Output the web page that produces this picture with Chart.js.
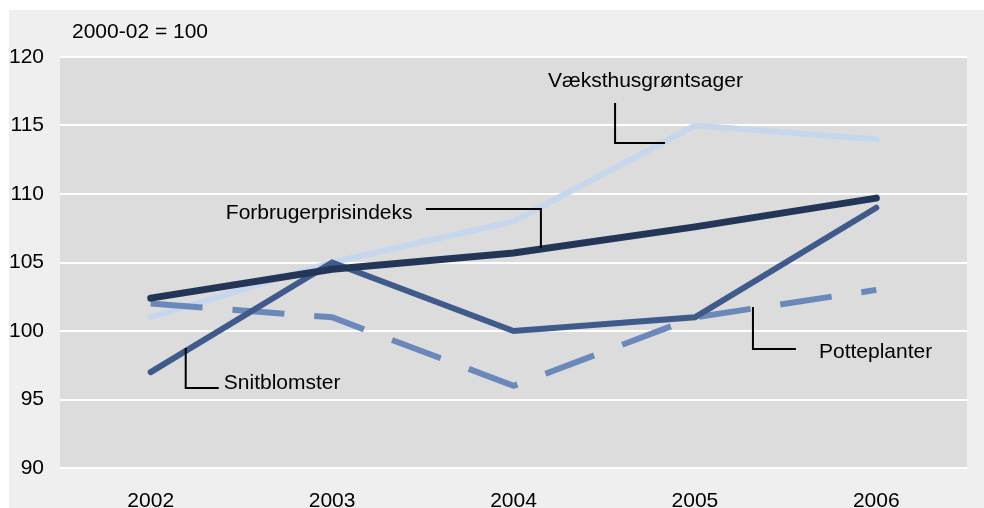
<!DOCTYPE html>
<html>
<head>
<meta charset="utf-8">
<script src="https://cdn.jsdelivr.net/npm/chart.js@4.4.1/dist/chart.umd.min.js"></script>
<style>
  body { margin: 0; background: #fff; }
  #wrap { width: 984px; height: 508px; position: relative; }
</style>
</head>
<body>
<div id="wrap"><canvas id="chart-indeks"></canvas></div>
<script>
const aar = ["2002", "2003", "2004", "2005", "2006"];
const forbrugerprisindeks = [102.4, 104.5, 105.7, 107.6, 109.7];
const snitblomster = [97, 105, 100, 101, 109];
const potteplanter = [102, 101, 96, 101, 103];
const vaeksthus = [101, 105, 108, 115, 114];
const y_ticks = [90, 95, 100, 105, 110, 115, 120];

// labels with leader lines, in data units (x = category index, y = index value)
const etiketter = [
  { tekst: "Væksthusgrøntsager", x: 2.19, y: 118.25, linje: [[2.56, 116.64], [2.56, 113.72], [2.835, 113.72]] },
  { tekst: "Forbrugerprisindeks", x: 0.414, y: 108.6, linje: [[1.517, 108.9], [2.151, 108.9], [2.151, 106.06]] },
  { tekst: "Snitblomster", x: 0.403, y: 96.2, linje: [[0.193, 98.76], [0.193, 95.84], [0.375, 95.84]] },
  { tekst: "Potteplanter", x: 3.684, y: 98.47, linje: [[3.32, 101.75], [3.32, 98.69], [3.557, 98.69]] },
];

const font = "'Liberation Sans', Arial, sans-serif";
Chart.defaults.color = "#000";
Chart.defaults.font.family = font;
Chart.defaults.font.size = 21;

const baggrund = {
  id: "baggrund",
  beforeDraw(chart) {
    const c = chart.ctx;
    const a = chart.chartArea;
    c.save();
    c.fillStyle = "#ffffff";
    c.fillRect(0, 0, chart.width, chart.height);
    c.fillStyle = "#efefef";
    c.fillRect(9, 10, chart.width - 9, chart.height - 10);
    c.fillStyle = "#dcdcdc";
    c.fillRect(a.left, a.top, a.right - a.left, a.bottom - a.top);
    c.restore();
  },
  afterDraw(chart) {
    const c = chart.ctx;
    const a = chart.chartArea;
    const xs = chart.scales.x;
    const ys = chart.scales.y;
    c.save();
    c.font = "21px " + font;
    c.fillStyle = "#000";
    c.textBaseline = "middle";
    c.textAlign = "left";
    c.fillText("2000-02 = 100", a.left + 12, a.top - 25);
    c.strokeStyle = "#000";
    c.lineWidth = 2;
    etiketter.forEach((e) => {
      c.fillText(e.tekst, xs.getPixelForValue(e.x), ys.getPixelForValue(e.y));
      c.beginPath();
      e.linje.forEach((p, i) => {
        const px = xs.getPixelForValue(p[0]);
        const py = ys.getPixelForValue(p[1]);
        if (i === 0) c.moveTo(px, py);
        else c.lineTo(px, py);
      });
      c.stroke();
    });
    c.restore();
  },
};

const ctx = document.getElementById("chart-indeks");
new Chart(ctx, {
  type: "line",
  data: {
    labels: aar,
    datasets: [
      {
        label: "Forbrugerprisindeks",
        data: forbrugerprisindeks,
        borderColor: "#243658",
        borderWidth: 7,
        borderCapStyle: "round",
      },
      {
        label: "Snitblomster",
        data: snitblomster,
        borderColor: "#3f5b8c",
        borderWidth: 6,
        borderCapStyle: "round",
      },
      {
        label: "Potteplanter",
        data: potteplanter,
        borderColor: "#6b88bb",
        borderWidth: 6,
        borderDash: [52, 30],
        borderCapStyle: "butt",
      },
      {
        label: "Væksthusgrøntsager",
        data: vaeksthus,
        borderColor: "#c6d7ed",
        borderWidth: 6,
        borderCapStyle: "round",
      },
    ],
  },
  options: {
    responsive: true,
    maintainAspectRatio: false,
    animation: false,
    layout: { padding: { top: 57, right: 17, left: 0, bottom: 0 } },
    elements: { point: { radius: 0 }, line: { tension: 0, borderJoinStyle: "miter" } },
    plugins: { legend: { display: false }, tooltip: { enabled: false } },
    scales: {
      x: {
        offset: true,
        grid: { display: false, drawTicks: false },
        border: { display: false },
        ticks: { padding: 21, maxRotation: 0 },
        afterFit(scale) { scale.height = 40; },
      },
      y: {
        min: 90,
        max: 120,
        afterBuildTicks(scale) { scale.ticks = y_ticks.map((v) => ({ value: v })); },
        grid: { color: "#ffffff", lineWidth: 2, drawTicks: false },
        border: { display: false },
        ticks: { padding: 16 },
        afterFit(scale) { scale.width = 60; },
      },
    },
  },
  plugins: [baggrund],
});
</script>
</body>
</html>
